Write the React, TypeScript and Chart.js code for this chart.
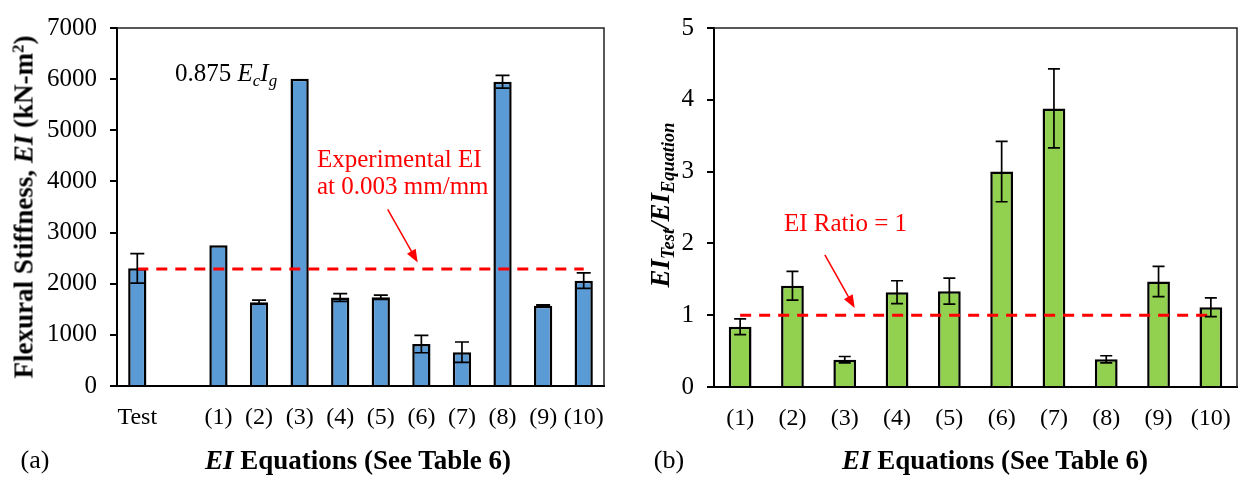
import React, { useEffect, useRef } from 'react';
import { Chart, registerables } from 'chart.js';

Chart.register(...registerables);

const SERIF = '"Liberation Serif", "Times New Roman", serif';

// ---------- Panel (a) data ----------
const leftLabels = ['Test', '', '(1)', '(2)', '(3)', '(4)', '(5)', '(6)', '(7)', '(8)', '(9)', '(10)'];
const leftValues = [2300, null, 2750, 1640, 6010, 1730, 1735, 820, 660, 5950, 1570, 2060];
const leftErrors = [290, null, 0, 40, 0, 75, 40, 170, 200, 125, 15, 150];
const leftRefX = [0, 11];
const leftRefY = [2290, 2290];
const leftArrowX = [6.17, 6.91];
const leftArrowY = [3453, 2415];
const leftYMax = 7000;
const leftYStep = 1000;

// ---------- Panel (b) data ----------
const rightLabels = ['(1)', '(2)', '(3)', '(4)', '(5)', '(6)', '(7)', '(8)', '(9)', '(10)'];
const rightValues = [0.84, 1.41, 0.38, 1.32, 1.335, 3.0, 3.88, 0.385, 1.47, 1.11];
const rightErrors = [0.11, 0.2, 0.045, 0.16, 0.18, 0.42, 0.55, 0.05, 0.21, 0.13];
const rightRefX = [0, 9];
const rightRefY = [1, 1];
const rightArrowX = [1.62, 2.19];
const rightArrowY = [1.84, 1.1];
const rightYMax = 5;
const rightYStep = 1;

const errorBarPlugin = {
  id: 'errorBars',
  afterDatasetsDraw(chart: any, _args: any, opts: any) {
    const { ctx } = chart;
    const meta = chart.getDatasetMeta(0);
    const ys = chart.scales.y;
    ctx.save();
    ctx.strokeStyle = '#000';
    ctx.lineWidth = 1.7;
    meta.data.forEach((bar: any, i: number) => {
      const v = opts.values[i];
      const e = opts.errors[i];
      if (v == null || !e) return;
      const x = bar.x;
      const yt = ys.getPixelForValue(v + e);
      const yb = ys.getPixelForValue(v - e);
      const h = opts.cap / 2;
      ctx.beginPath();
      ctx.moveTo(x, yt);
      ctx.lineTo(x, yb);
      ctx.moveTo(x - h, yt);
      ctx.lineTo(x + h, yt);
      ctx.moveTo(x - h, yb);
      ctx.lineTo(x + h, yb);
      ctx.stroke();
    });
    ctx.restore();
  },
};

const framePlugin = {
  id: 'frame',
  beforeDatasetsDraw(chart: any) {
    const { ctx, chartArea: a } = chart;
    ctx.save();
    ctx.strokeStyle = '#222';
    ctx.lineWidth = 1.5;
    ctx.beginPath();
    ctx.moveTo(a.left, a.top);
    ctx.lineTo(a.right, a.top);
    ctx.lineTo(a.right, a.bottom);
    ctx.stroke();
    ctx.restore();
  },
};

const arrowPlugin = {
  id: 'arrow',
  afterDatasetsDraw(chart: any, _args: any, opts: any) {
    const { ctx } = chart;
    const xs = chart.scales.xl;
    const ys = chart.scales.y;
    const x1 = xs.getPixelForValue(opts.x[0]);
    const y1 = ys.getPixelForValue(opts.y[0]);
    const x2 = xs.getPixelForValue(opts.x[1]);
    const y2 = ys.getPixelForValue(opts.y[1]);
    const ang = Math.atan2(y2 - y1, x2 - x1);
    const len = 13;
    const wid = 5;
    ctx.save();
    ctx.strokeStyle = '#FF0000';
    ctx.fillStyle = '#FF0000';
    ctx.lineWidth = 1.5;
    ctx.beginPath();
    ctx.moveTo(x1, y1);
    ctx.lineTo(x2 - Math.cos(ang) * len * 0.8, y2 - Math.sin(ang) * len * 0.8);
    ctx.stroke();
    ctx.beginPath();
    ctx.moveTo(x2, y2);
    ctx.lineTo(
      x2 - Math.cos(ang) * len + Math.sin(ang) * wid,
      y2 - Math.sin(ang) * len - Math.cos(ang) * wid
    );
    ctx.lineTo(
      x2 - Math.cos(ang) * len - Math.sin(ang) * wid,
      y2 - Math.sin(ang) * len + Math.cos(ang) * wid
    );
    ctx.closePath();
    ctx.fill();
    ctx.restore();
  },
};

function makeConfig(p: any) {
  const n = p.labels.length;
  return {
    type: 'bar',
    data: {
      labels: p.labels,
      datasets: [
        {
          type: 'bar',
          data: p.values,
          backgroundColor: p.color,
          borderColor: '#000',
          borderWidth: 2.5,
          barPercentage: p.barPct,
          categoryPercentage: 1,
          grouped: false,
          order: 2,
          xAxisID: 'x',
          yAxisID: 'y',
        },
        {
          type: 'line',
          data: p.refX.map((x: number, i: number) => ({ x, y: p.refY[i] })),
          borderColor: '#FF0000',
          borderWidth: 3,
          borderDash: [11, 8],
          pointRadius: 0,
          fill: false,
          order: 1,
          xAxisID: 'xl',
          yAxisID: 'y',
        },
      ],
    },
    options: {
      responsive: false,
      animation: false,
      events: [],
      layout: { padding: p.padding },
      plugins: {
        legend: { display: false },
        tooltip: { enabled: false },
        errorBars: { values: p.values, errors: p.errors, cap: p.cap },
        arrow: { x: p.arrowX, y: p.arrowY },
      },
      scales: {
        x: {
          type: 'category',
          offset: true,
          grid: { display: false },
          border: { display: true, color: '#000', width: 2 },
          ticks: {
            color: '#000',
            font: { family: SERIF, size: 24 },
            padding: 9,
            maxRotation: 0,
            autoSkip: false,
          },
          afterFit: (s: any) => {
            s.height = 60;
          },
        },
        xl: {
          type: 'linear',
          display: false,
          offset: false,
          bounds: 'data',
          min: -0.5,
          max: n - 0.5,
        },
        y: {
          min: 0,
          max: p.yMax,
          grid: {
            display: true,
            drawOnChartArea: false,
            drawTicks: true,
            tickLength: 7,
            color: '#000',
            lineWidth: 2,
          },
          border: { display: true, color: '#000', width: 2 },
          ticks: {
            stepSize: p.yStep,
            color: '#000',
            font: { family: SERIF, size: 25 },
            padding: 13,
            callback: (v: any) => String(v),
          },
          afterFit: (s: any) => {
            s.width = p.yWidth;
          },
        },
      },
    },
    plugins: [framePlugin, errorBarPlugin, arrowPlugin],
  };
}

function ChartCanvas({ left, width, height, config }: any) {
  const ref = useRef<HTMLCanvasElement>(null);
  useEffect(() => {
    const chart = new Chart(ref.current as HTMLCanvasElement, config as any);
    return () => chart.destroy();
  }, []);
  return (
    <canvas
      ref={ref}
      width={width}
      height={height}
      style={{ position: 'absolute', left, top: 0, width, height }}
    />
  );
}

const abs = (x: number, y: number, extra: any = {}) => ({
  position: 'absolute' as const,
  left: x,
  top: y,
  whiteSpace: 'nowrap' as const,
  lineHeight: 1,
  fontFamily: SERIF,
  color: '#000',
  ...extra,
});

const subStyle = { fontSize: '0.68em', verticalAlign: '-0.3em', lineHeight: 0 };
const supStyle = { fontSize: '0.62em', verticalAlign: '0.55em', lineHeight: 0 };

export default function App() {
  const leftConfig = makeConfig({
    labels: leftLabels,
    values: leftValues,
    errors: leftErrors,
    refX: leftRefX,
    refY: leftRefY,
    arrowX: leftArrowX,
    arrowY: leftArrowY,
    color: '#5B9BD5',
    yMax: leftYMax,
    yStep: leftYStep,
    yWidth: 80,
    barPct: 0.45,
    cap: 14,
    padding: { left: 37, right: 16, top: 15, bottom: 31 },
  });
  const rightConfig = makeConfig({
    labels: rightLabels,
    values: rightValues,
    errors: rightErrors,
    refX: rightRefX,
    refY: rightRefY,
    arrowX: rightArrowX,
    arrowY: rightArrowY,
    color: '#92D050',
    yMax: rightYMax,
    yStep: rightYStep,
    yWidth: 60,
    barPct: 0.435,
    cap: 12,
    padding: { left: 34, right: 6, top: 15, bottom: 30 },
  });

  return (
    <div
      style={{
        position: 'absolute',
        left: 0,
        top: 0,
        width: 1243,
        height: 477,
        background: '#fff',
        overflow: 'hidden',
        fontFamily: SERIF,
      }}
    >
      <ChartCanvas left={0} width={620} height={477} config={leftConfig} />
      <ChartCanvas left={620} width={623} height={477} config={rightConfig} />

      {/* Panel (a) texts */}
      <div
        style={abs(24, 207, {
          transform: 'translate(-50%, -50%) rotate(-90deg)',
          fontSize: 27,
          fontWeight: 'bold',
        })}
      >
        Flexural Stiffness, <i>EI</i> (kN-m<span style={supStyle}>2</span>)
      </div>
      <div style={abs(358, 460, { transform: 'translate(-50%, -50%)', fontSize: 27, fontWeight: 'bold' })}>
        <i>EI</i> Equations (See Table 6)
      </div>
      <div style={abs(35, 460, { transform: 'translate(-50%, -50%)', fontSize: 26 })}>(a)</div>
      <div style={abs(175, 72, { transform: 'translateY(-50%)', fontSize: 25 })}>
        0.875 <i>E</i>
        <i style={subStyle}>c</i>
        <i>I</i>
        <i style={subStyle}>g</i>
      </div>
      <div style={abs(317, 158, { transform: 'translateY(-50%)', fontSize: 25, color: '#FF0000' })}>
        Experimental EI
      </div>
      <div style={abs(317, 185, { transform: 'translateY(-50%)', fontSize: 25, color: '#FF0000' })}>
        at 0.003 mm/mm
      </div>

      {/* Panel (b) texts */}
      <div
        style={abs(660, 205, {
          transform: 'translate(-50%, -50%) rotate(-90deg)',
          fontSize: 27,
          fontWeight: 'bold',
          fontStyle: 'italic',
        })}
      >
        EI<span style={subStyle}>Test</span>/EI<span style={subStyle}>Equation</span>
      </div>
      <div style={abs(995, 460, { transform: 'translate(-50%, -50%)', fontSize: 27, fontWeight: 'bold' })}>
        <i>EI</i> Equations (See Table 6)
      </div>
      <div style={abs(669, 460, { transform: 'translate(-50%, -50%)', fontSize: 26 })}>(b)</div>
      <div style={abs(784, 222, { transform: 'translateY(-50%)', fontSize: 25, color: '#FF0000' })}>
        EI Ratio = 1
      </div>
    </div>
  );
}
